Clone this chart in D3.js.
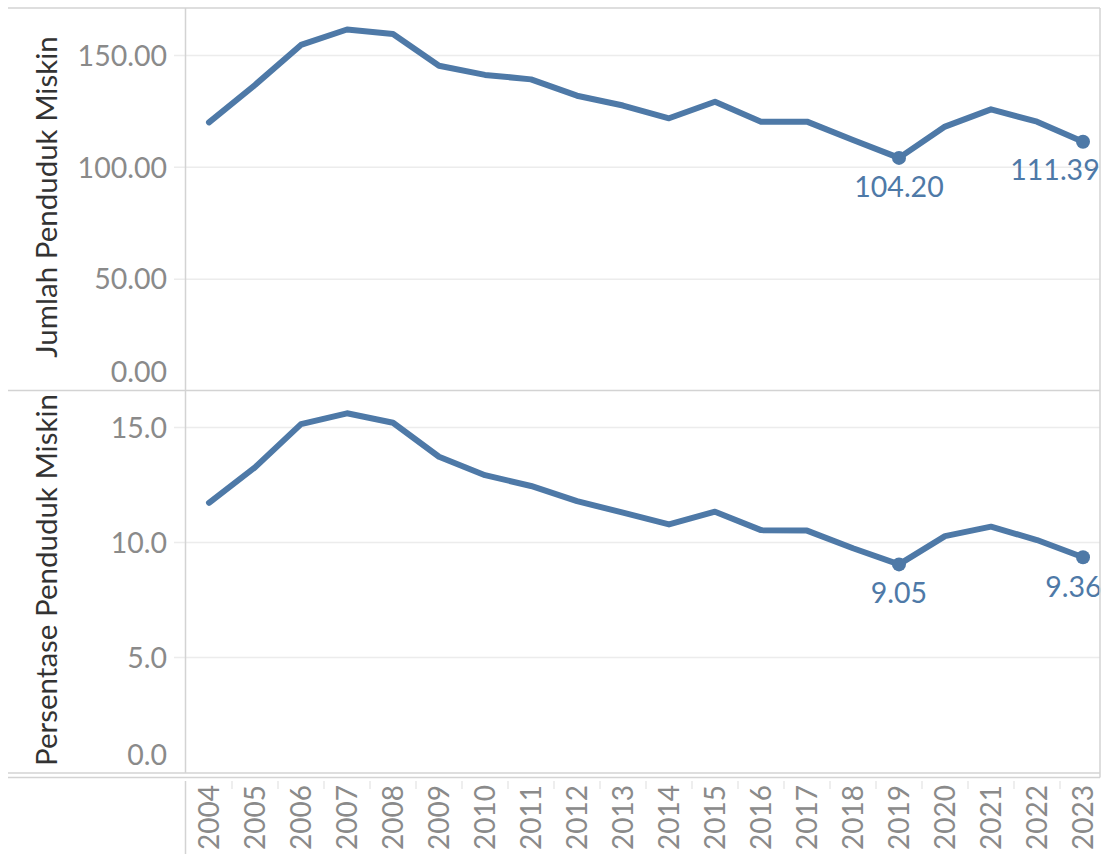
<!DOCTYPE html>
<html>
<head>
<meta charset="utf-8">
<script src="https://cdn.jsdelivr.net/npm/d3@7"></script>
<style>
  html, body { margin: 0; padding: 0; background: #fff; }
  svg { display: block; font-family: Lato, "Open Sans", sans-serif; }
</style>
</head>
<body>
<svg id="chart" width="1105" height="854"></svg>
<script>
const years = ["2004","2005","2006","2007","2008","2009","2010","2011","2012","2013","2014","2015","2016","2017","2018","2019","2020","2021","2022","2023"];
const jumlah = [120.1, 136.8, 154.7, 161.6, 159.6, 145.4, 141.3, 139.3, 132.0, 127.6, 121.9, 129.3, 120.4, 120.4, 112.2, 104.20, 118.2, 125.9, 120.4, 111.39];
const persen = [11.73, 13.27, 15.15, 15.62, 15.21, 13.73, 12.93, 12.46, 11.80, 11.30, 10.79, 11.34, 10.54, 10.52, 9.75, 9.05, 10.28, 10.69, 10.11, 9.36];
const jumlahTicks = [0, 50, 100, 150];
const persenTicks = [0, 5, 10, 15];
const labelledYears = ["2019", "2023"];
const titleTop = "Jumlah Penduduk Miskin";
const titleBottom = "Persentase Penduduk Miskin";

const svg = d3.select("#chart");
const blue = "#4e79a7";
const gridC = "#ececec";
const borderC = "#d3d3d3";
const tickC = "#8a8a8a";

const left = 185.5, right = 1100;
const x = d3.scaleBand().domain(years).range([186, 1106]).padding(0);
const cx = d => x(d) + x.bandwidth() / 2;

const panels = [
  { data: jumlah, ticks: jumlahTicks, fmt: d3.format(".2f"), lfmt: d3.format(".2f"),
    y: d3.scaleLinear().domain([0, 171.2]).range([391, 8]),
    title: titleTop, titleY: 197, labelDy: [29, 28], labelDx: [0, -28], zeroShift: 19 },
  { data: persen, ticks: persenTicks, fmt: d3.format(".1f"), lfmt: d3.format(".2f"),
    y: d3.scaleLinear().domain([0, 16.59]).range([772.5, 391]),
    title: titleBottom, titleY: 580, labelDy: [28, 29], labelDx: [0, -9.5], zeroShift: 18 }
];

// frame lines
const hLines = [8, 390.5, 773, 777.5];
svg.selectAll("line.h").data(hLines).join("line")
  .attr("x1", 8).attr("x2", right).attr("y1", d => d).attr("y2", d => d)
  .attr("stroke", borderC).attr("stroke-width", 1.5);

panels.forEach(p => {
  const g = svg.append("g");
  g.selectAll("line.grid").data(p.ticks.filter(t => t !== 0)).join("line")
    .attr("x1", 174).attr("x2", right)
    .attr("y1", d => p.y(d)).attr("y2", d => p.y(d))
    .attr("stroke", gridC).attr("stroke-width", 1.5);
  g.selectAll("text.tick").data(p.ticks).join("text")
    .attr("x", 167)
    .attr("y", d => p.y(d) - (d === 0 ? p.zeroShift : 0))
    .attr("dy", "0.36em")
    .attr("text-anchor", "end")
    .attr("fill", tickC)
    .attr("font-size", 28.5)
    .text(d => p.fmt(d));
  g.append("text")
    .attr("transform", `translate(46,${p.titleY}) rotate(-90)`)
    .attr("text-anchor", "middle")
    .attr("dy", "0.36em")
    .attr("fill", "#333")
    .attr("font-size", 29.5)
    .text(p.title);
  const line = d3.line().x((d, i) => cx(years[i])).y(d => p.y(d));
  g.append("path").datum(p.data)
    .attr("d", line)
    .attr("fill", "none")
    .attr("stroke", blue)
    .attr("stroke-width", 6)
    .attr("stroke-linejoin", "round")
    .attr("stroke-linecap", "round");
  labelledYears.forEach((yr, k) => {
    const i = years.indexOf(yr);
    const v = p.data[i];
    g.append("circle").attr("cx", cx(yr)).attr("cy", p.y(v)).attr("r", 7).attr("fill", blue);
    g.append("text")
      .attr("x", cx(yr) + p.labelDx[k])
      .attr("y", p.y(v) + p.labelDy[k])
      .attr("dy", "0.36em")
      .attr("text-anchor", "middle")
      .attr("fill", blue)
      .attr("font-size", 28.5)
      .text(p.lfmt(v));
  });
});

svg.append("line").attr("x1", left).attr("x2", left).attr("y1", 8).attr("y2", 773)
  .attr("stroke", borderC).attr("stroke-width", 1.5);
svg.append("line").attr("x1", left).attr("x2", left).attr("y1", 781).attr("y2", 854)
  .attr("stroke", borderC).attr("stroke-width", 1.5);
svg.append("line").attr("x1", right).attr("x2", right).attr("y1", 8).attr("y2", 777.5)
  .attr("stroke", borderC).attr("stroke-width", 1.5);

svg.selectAll("line.sep").data(years.slice(1)).join("line")
  .attr("x1", d => x(d)).attr("x2", d => x(d))
  .attr("y1", 781).attr("y2", 789)
  .attr("stroke", "#e8e8e8").attr("stroke-width", 1.5);

svg.selectAll("text.xl").data(years).join("text")
  .attr("transform", d => `translate(${cx(d)},785) rotate(-90)`)
  .attr("text-anchor", "end")
  .attr("dy", "0.36em")
  .attr("fill", tickC)
  .attr("font-size", 28)
  .text(d => d);
</script>
</body>
</html>
